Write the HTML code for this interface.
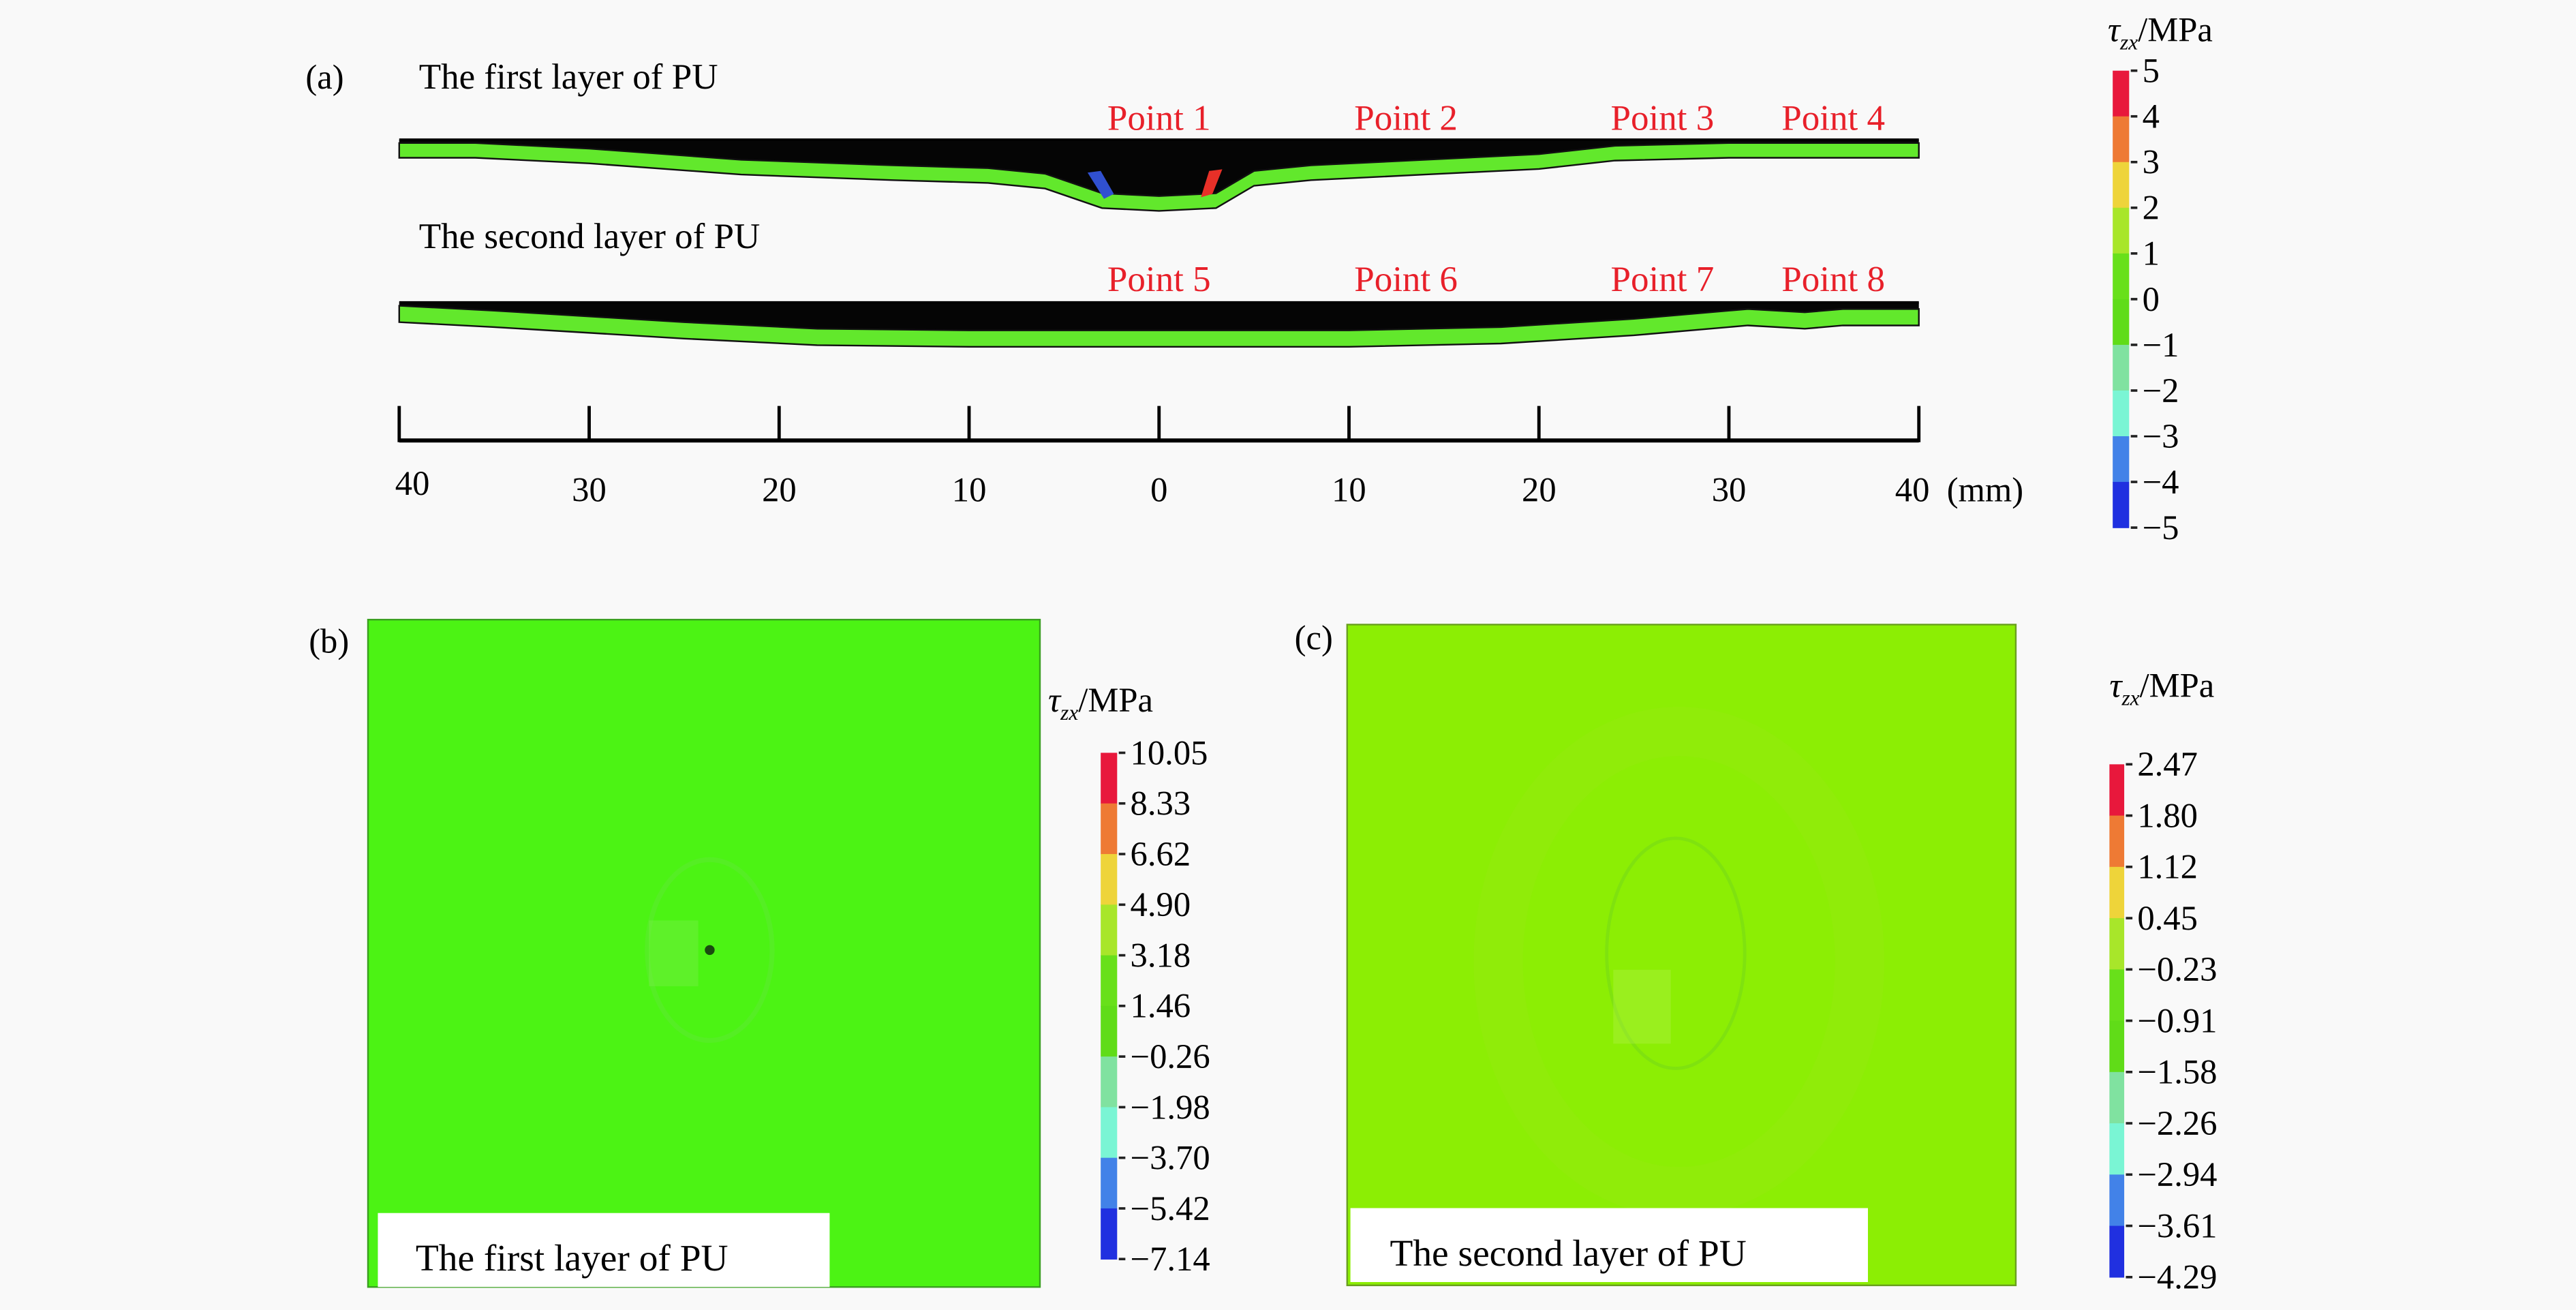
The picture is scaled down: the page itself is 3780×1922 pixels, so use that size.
<!DOCTYPE html>
<html><head><meta charset="utf-8"><style>
html,body{margin:0;padding:0;background:#f9f9f9;}
svg{display:block;font-family:"Liberation Serif",serif;}
</style></head><body>
<svg id="fig" width="3780" height="1922" viewBox="0 0 1568 797" preserveAspectRatio="none" xmlns="http://www.w3.org/2000/svg" font-family="Liberation Serif">
<rect width="1568" height="797" fill="#f9f9f9"/>
<g id="pa">
 <text x="186" y="54" font-size="21">(a)</text>
 <text x="255" y="54" font-size="22">The first layer of PU</text>
 <text x="255" y="151" font-size="22">The second layer of PU</text>
 <g id="layer1"></g>
 <g id="layer2"></g>
 <g id="points" fill="#e8202a" font-size="22" text-anchor="middle" font-family="Liberation Serif">
  <text x="705.5" y="79" font-family="Liberation Serif">Point 1</text>
  <text x="855.8" y="79" font-family="Liberation Serif">Point 2</text>
  <text x="1011.9" y="79" font-family="Liberation Serif">Point 3</text>
  <text x="1115.9" y="79" font-family="Liberation Serif">Point 4</text>
  <text x="705.5" y="177" font-family="Liberation Serif">Point 5</text>
  <text x="855.8" y="177" font-family="Liberation Serif">Point 6</text>
  <text x="1011.9" y="177" font-family="Liberation Serif">Point 7</text>
  <text x="1115.9" y="177" font-family="Liberation Serif">Point 8</text>
 </g>
 <g id="scale"></g>
 <g font-size="21" text-anchor="middle" font-family="Liberation Serif">
  <text x="251" y="301" font-family="Liberation Serif">40</text>
  <text x="358.6" y="305" font-family="Liberation Serif">30</text>
  <text x="474.3" y="305" font-family="Liberation Serif">20</text>
  <text x="589.9" y="305" font-family="Liberation Serif">10</text>
  <text x="705.5" y="305" font-family="Liberation Serif">0</text>
  <text x="821.1" y="305" font-family="Liberation Serif">10</text>
  <text x="936.8" y="305" font-family="Liberation Serif">20</text>
  <text x="1052.4" y="305" font-family="Liberation Serif">30</text>
  <text x="1164" y="305" font-family="Liberation Serif">40</text>
 </g>
 <text x="1185" y="305" font-size="21">(mm)</text>
</g>
<g id="cba" font-size="21" font-family="Liberation Serif">
 <text x="1283" y="25" font-family="Liberation Serif"><tspan font-style="italic">τ</tspan><tspan font-size="13" font-style="italic" dy="5">zx</tspan><tspan dy="-5">/MPa</tspan></text>
 <text x="1304" y="50" font-family="Liberation Serif">5</text>
 <text x="1304" y="77.8" font-family="Liberation Serif">4</text>
 <text x="1304" y="105.6" font-family="Liberation Serif">3</text>
 <text x="1304" y="133.4" font-family="Liberation Serif">2</text>
 <text x="1304" y="161.2" font-family="Liberation Serif">1</text>
 <text x="1304" y="189" font-family="Liberation Serif">0</text>
 <text x="1304" y="216.8" font-family="Liberation Serif">−1</text>
 <text x="1304" y="244.6" font-family="Liberation Serif">−2</text>
 <text x="1304" y="272.4" font-family="Liberation Serif">−3</text>
 <text x="1304" y="300.2" font-family="Liberation Serif">−4</text>
 <text x="1304" y="328" font-family="Liberation Serif">−5</text>
</g>
<g id="pb">
 <text x="188" y="397" font-size="21">(b)</text>
 <rect x="224" y="377" width="409" height="406" fill="#4cf314" stroke="#3aa020" stroke-width="1"/>
 <ellipse cx="432" cy="578" rx="38" ry="55" fill="none" stroke="#64e63c" stroke-width="3" opacity="0.4"/>
 <rect x="395" y="560" width="30" height="40" fill="#80ee50" opacity="0.35"/>
 <circle cx="432" cy="578" r="3" fill="#1a4a10"/>
 <rect x="230" y="738" width="275" height="45" fill="#fff"/>
 <text x="253" y="773" font-size="23">The first layer of PU</text>
</g>
<g id="cbb" font-size="21" font-family="Liberation Serif">
 <text x="638" y="433" font-family="Liberation Serif"><tspan font-style="italic">τ</tspan><tspan font-size="13" font-style="italic" dy="5">zx</tspan><tspan dy="-5">/MPa</tspan></text>
 <text x="688" y="465" font-family="Liberation Serif">10.05</text>
 <text x="688" y="495.8" font-family="Liberation Serif">8.33</text>
 <text x="688" y="526.6" font-family="Liberation Serif">6.62</text>
 <text x="688" y="557.4" font-family="Liberation Serif">4.90</text>
 <text x="688" y="588.2" font-family="Liberation Serif">3.18</text>
 <text x="688" y="619" font-family="Liberation Serif">1.46</text>
 <text x="688" y="649.8" font-family="Liberation Serif">−0.26</text>
 <text x="688" y="680.6" font-family="Liberation Serif">−1.98</text>
 <text x="688" y="711.4" font-family="Liberation Serif">−3.70</text>
 <text x="688" y="742.2" font-family="Liberation Serif">−5.42</text>
 <text x="688" y="773" font-family="Liberation Serif">−7.14</text>
</g>
<g id="pc">
 <text x="788" y="395" font-size="21">(c)</text>
 <rect x="820" y="380" width="407" height="402" fill="#8cee04" stroke="#6aa020" stroke-width="1"/>
 <ellipse cx="1022" cy="585" rx="110" ry="140" fill="none" stroke="#9ae618" stroke-width="30" opacity="0.25"/>
 <ellipse cx="1020" cy="580" rx="42" ry="70" fill="none" stroke="#6cd020" stroke-width="2" opacity="0.4"/>
 <rect x="982" y="590" width="35" height="45" fill="#b4f050" opacity="0.35"/>
 <rect x="822" y="735" width="315" height="45" fill="#fff"/>
 <text x="846" y="770" font-size="23">The second layer of PU</text>
</g>
<g id="cbc" font-size="21" font-family="Liberation Serif">
 <text x="1284" y="424" font-family="Liberation Serif"><tspan font-style="italic">τ</tspan><tspan font-size="13" font-style="italic" dy="5">zx</tspan><tspan dy="-5">/MPa</tspan></text>
 <text x="1301" y="472" font-family="Liberation Serif">2.47</text>
 <text x="1301" y="503.2" font-family="Liberation Serif">1.80</text>
 <text x="1301" y="534.4" font-family="Liberation Serif">1.12</text>
 <text x="1301" y="565.6" font-family="Liberation Serif">0.45</text>
 <text x="1301" y="596.8" font-family="Liberation Serif">−0.23</text>
 <text x="1301" y="628" font-family="Liberation Serif">−0.91</text>
 <text x="1301" y="659.2" font-family="Liberation Serif">−1.58</text>
 <text x="1301" y="690.4" font-family="Liberation Serif">−2.26</text>
 <text x="1301" y="721.6" font-family="Liberation Serif">−2.94</text>
 <text x="1301" y="752.8" font-family="Liberation Serif">−3.61</text>
 <text x="1301" y="784" font-family="Liberation Serif">−4.29</text>
</g>
</svg>
<script>
const NS="http://www.w3.org/2000/svg";
const scaleTicks=[-40,-30,-20,-10,0,10,20,30,40];
const layer1X=[-40,-36,-30,-22,-14,-9,-6,-3,0,3,5,8,14,20,24,30,40];
const layer1Depth=[0,0,2,6,8,9,11,18,19,18,10,8,6,4,1,0,0];
const layer2X=[-40,-35,-25,-18,-10,0,10,18,25,31,34,36,40];
const layer2Depth=[0,3,10,14,15,15,15,13,8,2,4,2,2];
const cbColors=["#e8183c","#ee7a34","#eed43a","#a8e62a","#68e01a","#60dc18","#80e2a0","#7af5d4","#4282e8","#2030e0"];

function mk(tag,attrs,parent){const e=document.createElementNS(NS,tag);for(const k in attrs)e.setAttribute(k,attrs[k]);parent.appendChild(e);return e;}
const x0=243,x1=1168;
const sx=v=>x0+(v+40)/80*(x1-x0);

function drawLayer(g,topY,xs,ds,scale,thick,name){
  const black=[sx(-40)+","+topY];
  xs.forEach((v,i)=>black.push(sx(v)+","+(topY+2+ds[i]*scale)));
  black.push(sx(40)+","+topY);
  const p=mk("polygon",{points:black.join(" "),fill:"#050505"},g);
  
  
  const top=xs.map((v,i)=>sx(v)+","+(topY+2+ds[i]*scale));
  const bot=xs.map((v,i)=>sx(v)+","+(topY+2+thick+ds[i]*scale)).reverse();
  const q=mk("polygon",{points:top.concat(bot).join(" "),fill:"#62e82c",stroke:"#111","stroke-width":"1"},g);
  
  
  mk("line",{x1:x0,y1:topY,x2:x1,y2:topY,stroke:"#000","stroke-width":"1.5"},g);
}
drawLayer(document.getElementById("layer1"),85,layer1X,layer1Depth,1.7,9,"first-layer");
drawLayer(document.getElementById("layer2"),184,layer2X,layer2Depth,1.0,10,"second-layer");
const l1=document.getElementById("layer1");
mk("polygon",{points:"662,105 670,104 678,118 672,121",fill:"#3050d0"},l1);
mk("polygon",{points:"736,104 744,103 738,118 731,120",fill:"#e83028"},l1);

const sg=document.getElementById("scale");
mk("line",{x1:x0,y1:268,x2:x1,y2:268,stroke:"#000","stroke-width":"2.5"},sg);
scaleTicks.forEach(v=>{
  const x=sx(v);
  const t=mk("line",{x1:x,y1:247,x2:x,y2:269,stroke:"#000","stroke-width":"2"},sg);
  
  
});

function colorbar(id,x,top,bot,w){
  const g=document.getElementById(id);
  const n=cbColors.length, h=(bot-top)/n;
  cbColors.forEach((c,i)=>{
    const r=mk("rect",{x:x,y:top+i*h,width:w,height:h+0.3,fill:c},g);
    
    
  });
  for(let i=0;i<=n;i++){
    const y=top+i*h;
    mk("line",{x1:x+w+1,y1:y,x2:x+w+5,y2:y,stroke:"#222","stroke-width":"1.5"},g);
  }
}
colorbar("cba",1286,43,321,10);
colorbar("cbb",670,458,766,10);
colorbar("cbc",1284,465,777,9);
</script>
</body></html>
